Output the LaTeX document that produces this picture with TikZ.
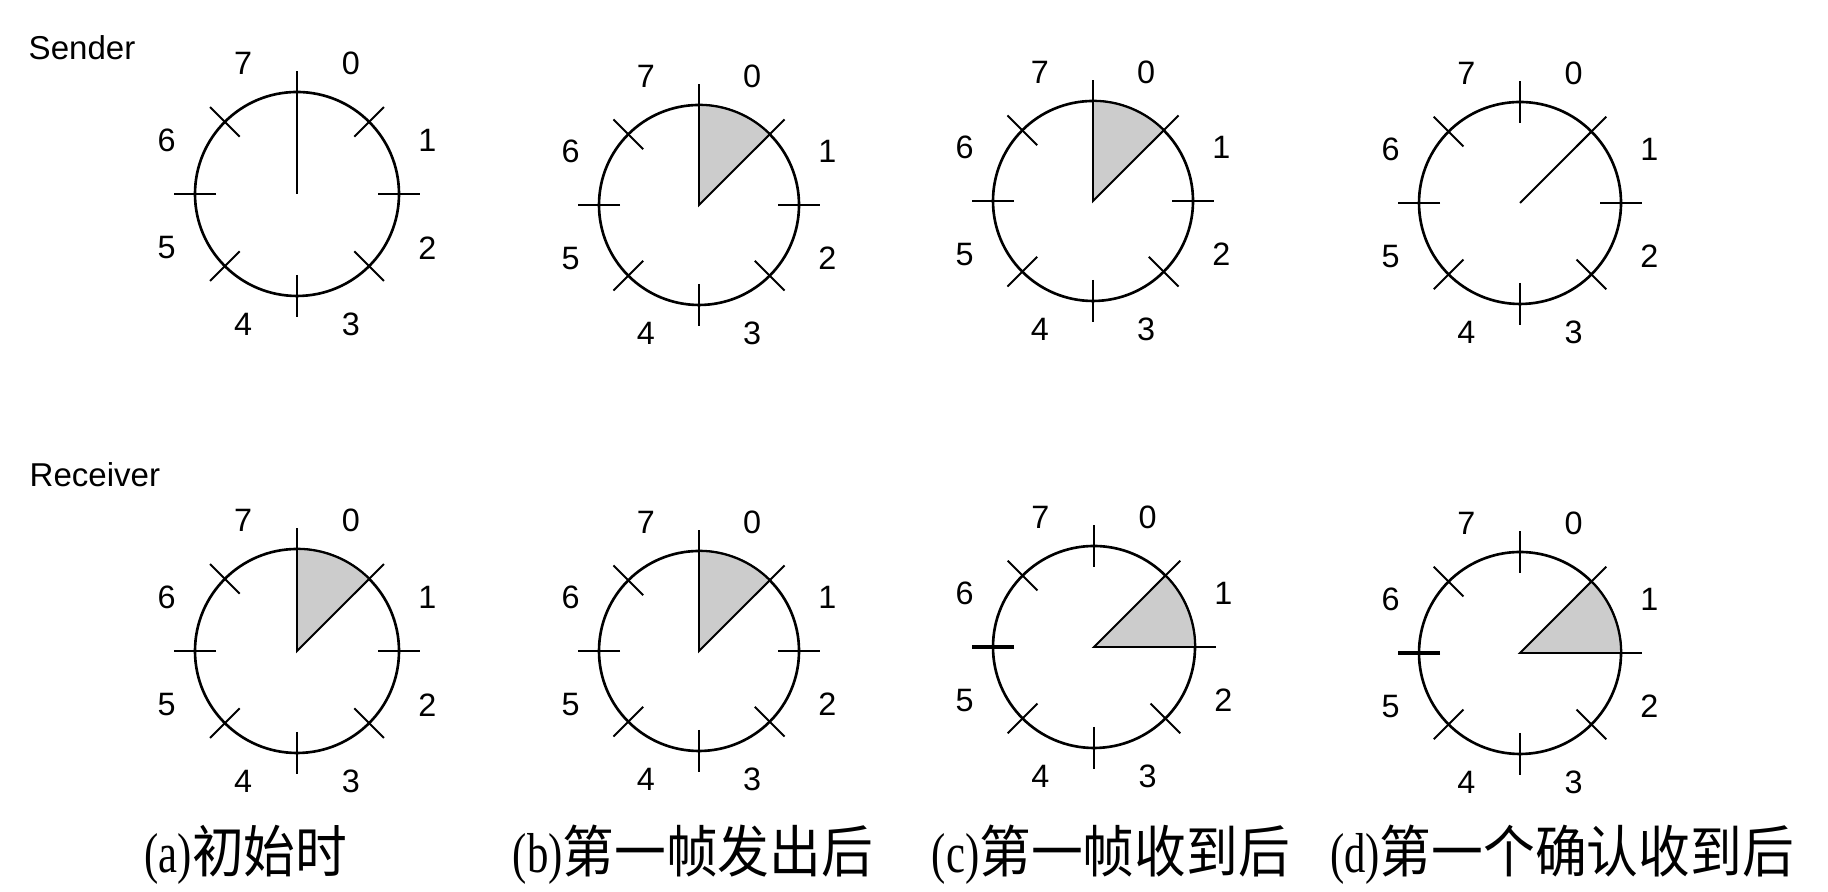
\documentclass[tikz,border=0pt]{standalone}
\usepackage{fontspec}
\setmainfont{Liberation Sans}
\newfontfamily\cjk[FakeStretch=0.92]{Noto Sans CJK SC}
\newfontfamily\capfont[FakeStretch=0.76]{Liberation Serif}
\usetikzlibrary{calc}

\tikzset{
  ring/.style = {line width=0.75pt},
  tick/.style = {line width=0.55pt},
  seq/.style = {font=\fontsize{9.2}{11}\selectfont, inner sep=0pt},
  window/.style = {fill=black!20, draw, line width=0.55pt},
  side/.style = {font=\fontsize{9.4}{11}\selectfont, anchor=west, inner sep=0pt},
  caption/.style = {font=\fontsize{16}{19}\selectfont, inner sep=0pt},
}

% one wheel of sequence numbers: name, x, y, radius (in px)
\newcommand{\seqwheel}[4]{%
  \coordinate (#1) at (#2,#3);
  \draw[ring] (#1) circle[radius=#4*0.01cm];
  \foreach \a in {0,45,...,315}
    \draw[tick] ($(#1)+(\a:#4-21)$) -- ($(#1)+(\a:#4+21)$);
  \foreach \k in {0,...,7}
    \node[seq] (#1-\k) at ($(#1)+(67.5-45*\k:#4+39)$) {\k};
}

\begin{document}
\begin{tikzpicture}[x=0.01cm, y=0.01cm]
  \useasboundingbox (0,0) rectangle (1828,892);

  \node[side] (snd) at (28,844) {Sender};
  \node[side] (rcv) at (29,417) {Receiver};

  % sender
  \seqwheel{sa}{297}{698}{102}
  \draw[tick] (sa) -- ++(90:102);
  \seqwheel{sb}{699}{687}{100}
  \filldraw[window] (sb) -- ++(90:100) arc[start angle=90, end angle=45, radius=1cm] -- cycle;
  \seqwheel{sc}{1093}{691}{100}
  \filldraw[window] (sc) -- ++(90:100) arc[start angle=90, end angle=45, radius=1cm] -- cycle;
  \seqwheel{sd}{1520}{689}{101}
  \draw[tick] (sd) -- ++(45:101);

  % receiver
  \seqwheel{ra}{297}{241}{102}
  \filldraw[window] (ra) -- ++(90:102) arc[start angle=90, end angle=45, radius=1.02cm] -- cycle;
  \seqwheel{rb}{699}{241}{100}
  \filldraw[window] (rb) -- ++(90:100) arc[start angle=90, end angle=45, radius=1cm] -- cycle;
  \seqwheel{rc}{1094}{245}{101}
  \filldraw[window] (rc) -- ++(45:101) arc[start angle=45, end angle=0, radius=1.01cm] -- cycle;
  \draw[line width=1pt] ($(rc)+(180:80)$) -- ($(rc)+(180:122)$);
  \seqwheel{rd}{1520}{239}{101}
  \filldraw[window] (rd) -- ++(45:101) arc[start angle=45, end angle=0, radius=1.01cm] -- cycle;
  \draw[line width=1pt] ($(rd)+(180:80)$) -- ($(rd)+(180:122)$);

  \node[caption] (capa) at (246,37) {{\capfont(a)}{\cjk 初始时}};
  \node[caption] (capb) at (693,37) {{\capfont(b)}{\cjk 第一帧发出后}};
  \node[caption] (capc) at (1111,37) {{\capfont(c)}{\cjk 第一帧收到后}};
  \node[caption] (capd) at (1562,37) {{\capfont(d)}{\cjk 第一个确认收到后}};
\end{tikzpicture}
\end{document}
